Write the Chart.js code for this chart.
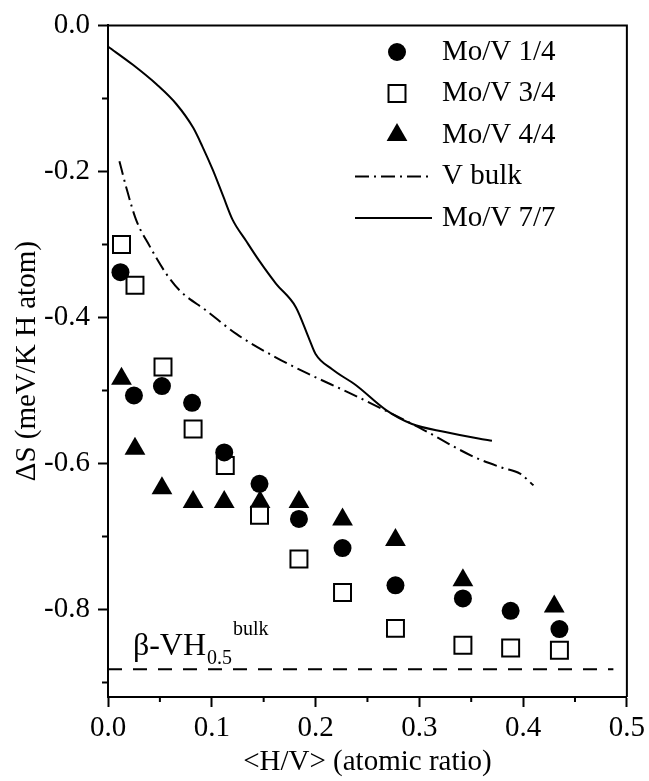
<!DOCTYPE html>
<html>
<head>
<meta charset="utf-8">
<script src="https://cdn.jsdelivr.net/npm/chart.js@4.4.0/dist/chart.umd.min.js"></script>
<style>
  html, body { margin: 0; padding: 0; background: #fff; }
  canvas { display: block; }
</style>
</head>
<body>
<canvas id="entropyChart" width="649" height="781"></canvas>
<script>
  // values
  const mo14X = [0.012, 0.025, 0.052, 0.081, 0.112, 0.146, 0.184, 0.226, 0.277, 0.342, 0.388, 0.435];
  const mo14Y = [-0.338, -0.507, -0.494, -0.517, -0.585, -0.628, -0.676, -0.716, -0.767, -0.785, -0.802, -0.827];

  const mo34X = [0.013, 0.026, 0.053, 0.082, 0.113, 0.146, 0.184, 0.226, 0.277, 0.342, 0.388, 0.435];
  const mo34Y = [-0.300, -0.356, -0.468, -0.553, -0.603, -0.671, -0.731, -0.777, -0.826, -0.849, -0.853, -0.856];

  const mo44X = [0.013, 0.026, 0.052, 0.082, 0.112, 0.1465, 0.184, 0.226, 0.277, 0.342, 0.430];
  const mo44Y = [-0.484, -0.580, -0.634, -0.653, -0.653, -0.653, -0.653, -0.677, -0.705, -0.760, -0.796];

  const vBulkX = [0.011, 0.018, 0.027, 0.040, 0.056, 0.069, 0.095, 0.124, 0.162, 0.194, 0.232, 0.268, 0.300, 0.354, 0.380, 0.397, 0.410];
  const vBulkY = [-0.186, -0.224, -0.266, -0.302, -0.340, -0.363, -0.391, -0.423, -0.455, -0.478, -0.503, -0.528, -0.551, -0.592, -0.606, -0.614, -0.630];

  const mo77X = [0, 0.024, 0.047, 0.066, 0.082, 0.091, 0.101, 0.111, 0.120, 0.133, 0.146, 0.162, 0.181, 0.194, 0.200, 0.216, 0.239, 0.268, 0.293, 0.325, 0.357, 0.370];
  const mo77Y = [-0.029, -0.054, -0.081, -0.108, -0.140, -0.166, -0.198, -0.234, -0.266, -0.295, -0.323, -0.354, -0.386, -0.430, -0.450, -0.471, -0.493, -0.527, -0.546, -0.557, -0.566, -0.569];

  const betaX = [0, 0.487];
  const betaY = [-0.882, -0.882];

  const xTicks = [0, 0.1, 0.2, 0.3, 0.4, 0.5];
  const xMinor = [0.05, 0.15, 0.25, 0.35, 0.45];
  const yTicks = [-0.8, -0.6, -0.4, -0.2, 0];
  const yMinor = [-0.9, -0.7, -0.5, -0.3, -0.1];

  const pts = (xs, ys) => xs.map((x, i) => ({ x: x, y: ys[i] }));
  const serif = "'Liberation Serif', 'Times New Roman', serif";

  Chart.defaults.font.family = serif;
  Chart.defaults.color = '#000';

  // box, minor ticks, legend and the beta label
  const extras = {
    id: 'extras',
    afterDraw(chart) {
      const { ctx, chartArea: a, scales: { x, y } } = chart;
      ctx.save();
      ctx.strokeStyle = '#000';
      ctx.lineWidth = 2;
      ctx.setLineDash([]);
      ctx.beginPath();
      ctx.moveTo(a.left, a.top); ctx.lineTo(a.right, a.top); ctx.lineTo(a.right, a.bottom);
      xMinor.forEach(v => { const px = x.getPixelForValue(v); ctx.moveTo(px, a.bottom); ctx.lineTo(px, a.bottom + 5); });
      yMinor.forEach(v => { const py = y.getPixelForValue(v); ctx.moveTo(a.left, py); ctx.lineTo(a.left - 6, py); });
      ctx.stroke();

      // legend
      ctx.textBaseline = 'middle';
      ctx.textAlign = 'left';
      ctx.font = '29px ' + serif;
      chart.data.datasets.slice(0, 5).forEach((ds, i) => {
        const ly = 52 + i * 41.5;
        if (ds.showLine) {
          ctx.strokeStyle = '#000';
          ctx.lineWidth = 2;
          ctx.setLineDash(ds.borderDash || []);
          ctx.beginPath();
          ctx.moveTo(355, ly); ctx.lineTo(432, ly);
          ctx.stroke();
          ctx.setLineDash([]);
        } else {
          ctx.fillStyle = ds.pointBackgroundColor;
          ctx.strokeStyle = ds.pointBorderColor;
          ctx.lineWidth = ds.pointBorderWidth;
          Chart.helpers.drawPoint(ctx, { pointStyle: ds.pointStyle, radius: ds.pointRadius, borderWidth: ds.pointBorderWidth, rotation: 0 }, 397, ly);
        }
        ctx.fillStyle = '#000';
        ctx.fillText(ds.label, 442, ly);
      });

      // beta-VH0.5 bulk label
      const bx = x.getPixelForValue(0.024), by = y.getPixelForValue(-0.8626);
      ctx.textBaseline = 'alphabetic';
      ctx.font = '32px ' + serif;
      ctx.fillText('β-VH', bx, by);
      const w1 = ctx.measureText('β-VH').width;
      ctx.font = '20px ' + serif;
      ctx.fillText('0.5', bx + w1 + 1, by + 9);
      const w2 = ctx.measureText('0.5').width;
      ctx.fillText('bulk', bx + w1 + w2 + 2, by - 20);
      ctx.restore();
    }
  };

  const ctx = document.getElementById('entropyChart').getContext('2d');

  const entropyChart = new Chart(ctx, {
    type: 'scatter',
    data: {
      datasets: [
        { label: 'Mo/V 1/4', data: pts(mo14X, mo14Y), pointStyle: 'circle', pointRadius: 9,
          pointBackgroundColor: '#000', pointBorderColor: '#000', pointBorderWidth: 0 },
        { label: 'Mo/V 3/4', data: pts(mo34X, mo34Y), pointStyle: 'rect', pointRadius: 12,
          pointBackgroundColor: '#fff', pointBorderColor: '#000', pointBorderWidth: 2 },
        { label: 'Mo/V 4/4', data: pts(mo44X, mo44Y), pointStyle: 'triangle', pointRadius: 12,
          pointBackgroundColor: '#000', pointBorderColor: '#000', pointBorderWidth: 0 },
        { label: 'V bulk', data: pts(vBulkX, vBulkY), showLine: true, pointRadius: 0,
          borderColor: '#000', borderWidth: 2, borderDash: [14, 5, 2, 5], cubicInterpolationMode: 'monotone' },
        { label: 'Mo/V 7/7', data: pts(mo77X, mo77Y), showLine: true, pointRadius: 0,
          borderColor: '#000', borderWidth: 2, cubicInterpolationMode: 'monotone' },
        { label: 'beta', data: pts(betaX, betaY), showLine: true, pointRadius: 0,
          borderColor: '#000', borderWidth: 2, borderDash: [14, 11] }
      ]
    },
    options: {
      responsive: false,
      animation: false,
      events: [],
      layout: { padding: { top: 24, right: 21, left: 0, bottom: 0 } },
      plugins: { legend: { display: false }, tooltip: { enabled: false } },
      scales: {
        x: {
          type: 'linear', min: 0, max: 0.5,
          afterBuildTicks: s => { s.ticks = xTicks.map(v => ({ value: v })); },
          afterFit: s => { s.height = 84; },
          ticks: { callback: v => v.toFixed(1), font: { size: 29 }, color: '#000', padding: 4, maxRotation: 0, autoSkip: false },
          grid: { drawOnChartArea: false, drawTicks: true, tickLength: 10, tickWidth: 2, tickColor: '#000' },
          border: { color: '#000', width: 2 },
          title: { display: true, text: '<H/V> (atomic ratio)', font: { size: 29 }, color: '#000', padding: { top: 0, bottom: 1 } }
        },
        y: {
          type: 'linear', min: -0.92, max: 0,
          afterBuildTicks: s => { s.ticks = yTicks.map(v => ({ value: v })); },
          afterFit: s => { s.width = 108; },
          ticks: { callback: v => v.toFixed(1), font: { size: 29 }, color: '#000', padding: 8, autoSkip: false },
          grid: { drawOnChartArea: false, drawTicks: true, tickLength: 10, tickWidth: 2, tickColor: '#000' },
          border: { color: '#000', width: 2 },
          title: { display: true, text: 'ΔS (meV/K H atom)', font: { size: 29 }, color: '#000', padding: { top: 10, bottom: 0 } }
        }
      }
    },
    plugins: [extras]
  });
</script>
</body>
</html>
